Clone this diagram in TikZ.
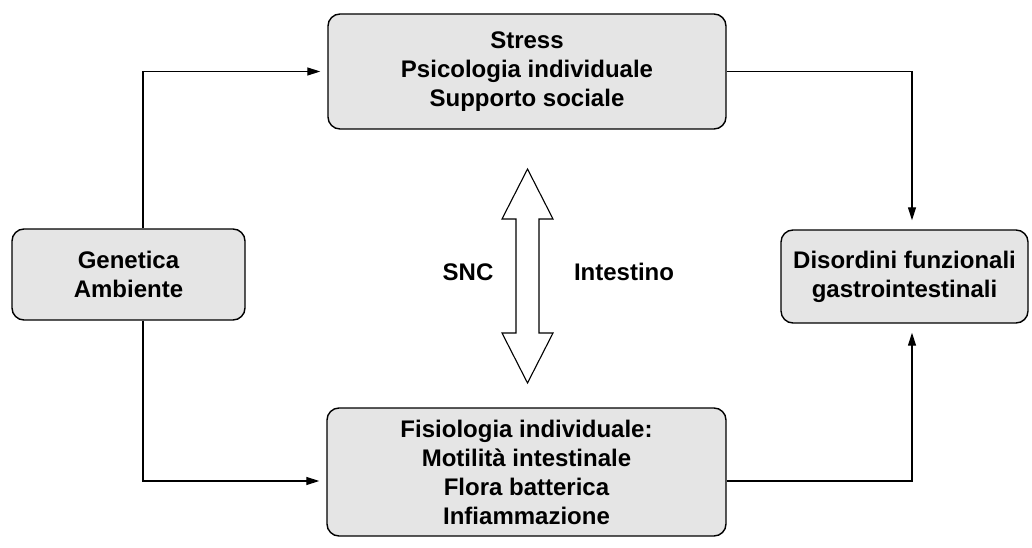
\documentclass[tikz,border=0pt]{standalone}
\usepackage{fontspec}
\setmainfont{Liberation Sans}
\usepackage{tikz}
\usetikzlibrary{arrows.meta, positioning, calc}

\begin{document}
\begin{tikzpicture}[
  x=1pt, y=-1pt,
  every node/.style={font=\fontsize{24}{29}\selectfont\bfseries},
  box/.style={draw, line width=1.4pt, rounded corners=12pt, fill=black!10,
              align=center, inner sep=0pt},
  arr/.style={-{Triangle[length=13pt, width=8pt]}, line width=1.1pt},
]
  \useasboundingbox (0,0) rectangle (1032,548);

  % Boxes
  \node[box, minimum width=398pt, minimum height=115pt] (stress) at (527,71.5)
       {Stress\\Psicologia individuale\\Supporto sociale};
  \node[box, minimum width=399pt, minimum height=128pt] (fisio) at (526.5,472)
       {Fisiologia individuale:\\Motilità intestinale\\Flora batterica\\Infiammazione};
  \node[box, minimum width=233pt, minimum height=91pt] (gen) at (128.5,274.5)
       {Genetica\\Ambiente};
  \node[box, minimum width=247pt, minimum height=93pt] (dis) at (904.5,276.5)
       {Disordini funzionali\\gastrointestinali};

  % Connectors
  \draw[arr, shorten >=7pt] ([xshift=14.5pt]gen.north) |- (stress.west);
  \draw[arr, shorten >=7pt] ([xshift=14.5pt]gen.south) |- ([yshift=-9pt]fisio.west);
  \draw[arr, shorten >=9pt] (stress.east) -| ([xshift=7.5pt]dis.north);
  \draw[arr, shorten >=9pt] ([yshift=-9pt]fisio.east) -| ([xshift=7.5pt]dis.south);

  % Double arrow SNC <-> Intestino
  \coordinate (mid) at (527.5,276);
  \draw[line width=1.1pt, fill=white]
    ($(mid)+(0,-107)$) -- ($(mid)+(25.5,-57)$) -- ($(mid)+(11.5,-57)$)
    -- ($(mid)+(11.5,57)$) -- ($(mid)+(25.5,57)$) -- ($(mid)+(0,107)$)
    -- ($(mid)+(-25.5,57)$) -- ($(mid)+(-11.5,57)$) -- ($(mid)+(-11.5,-57)$)
    -- ($(mid)+(-25.5,-57)$) -- cycle;
  \node (snc) at (468,272) {SNC};
  \node (int) at (624,272) {Intestino};
\end{tikzpicture}
\end{document}
